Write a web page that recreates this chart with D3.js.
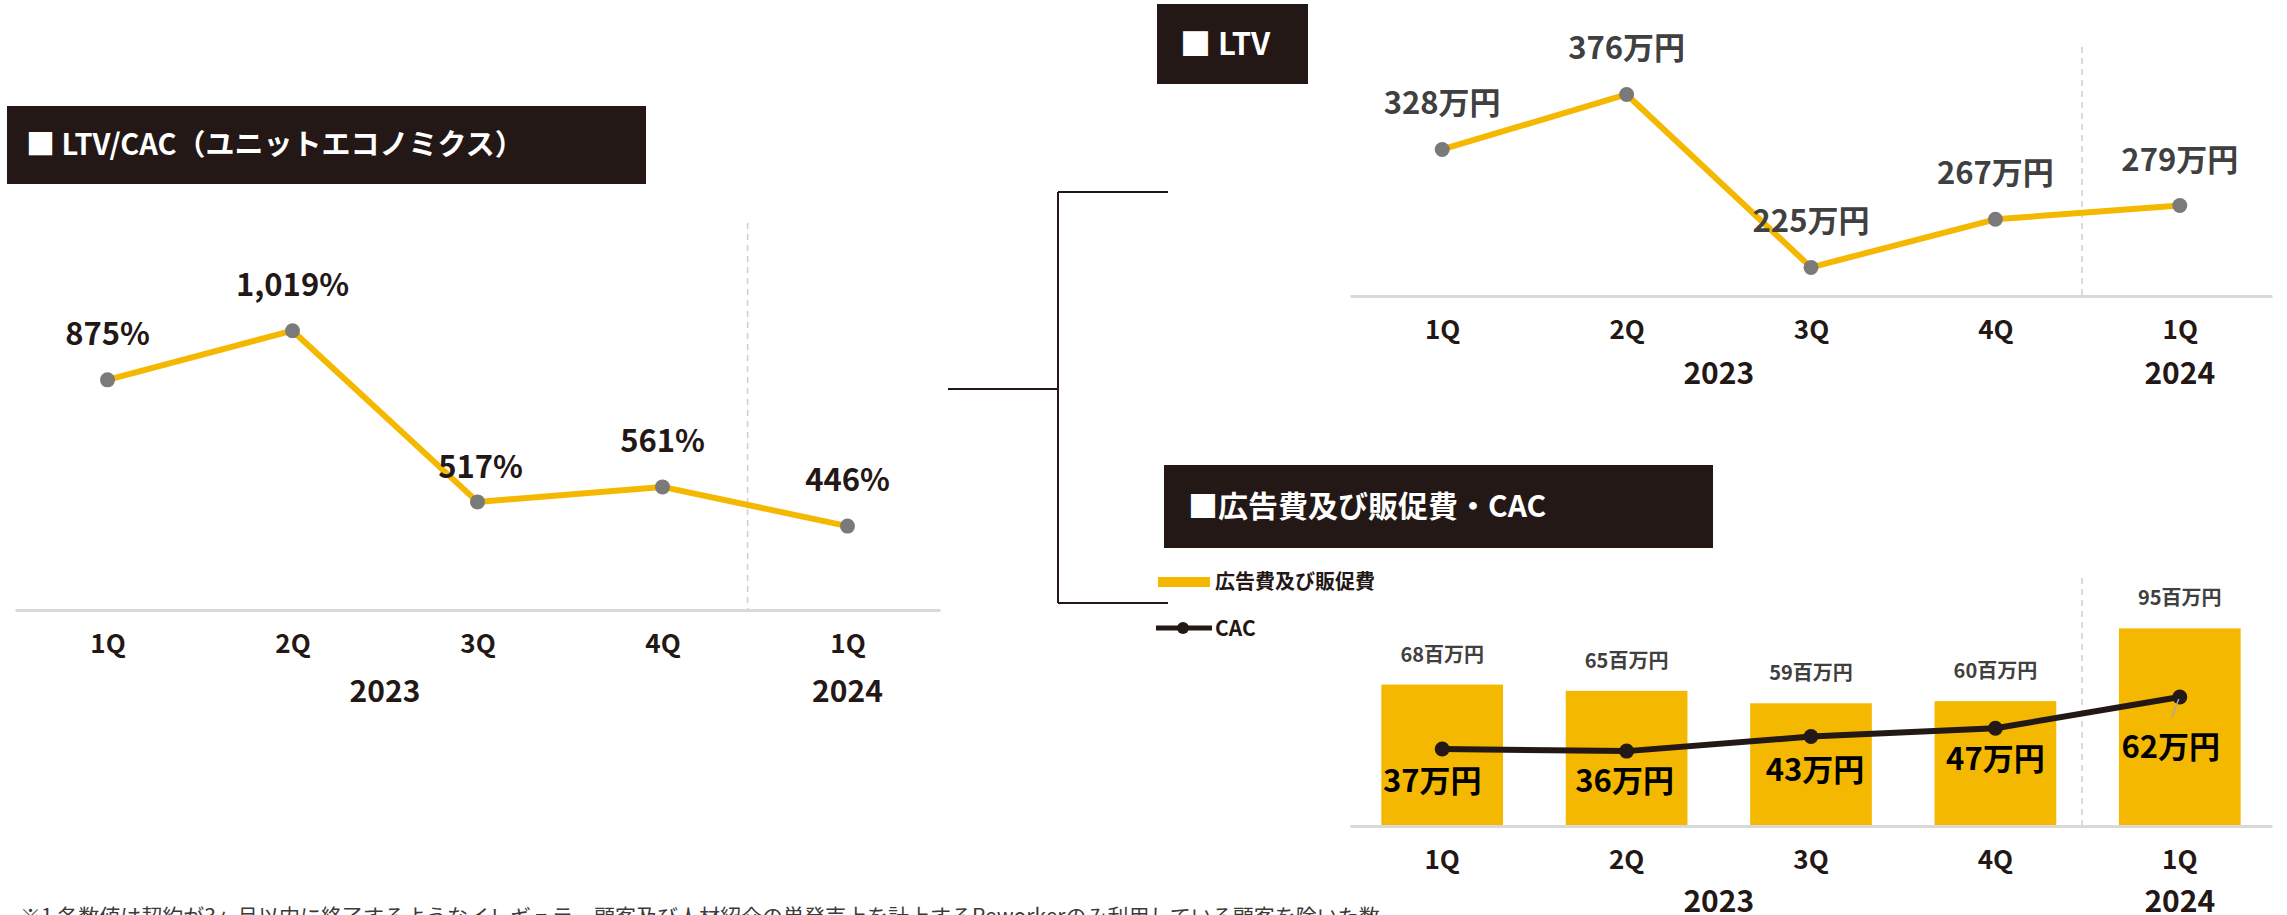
<!DOCTYPE html>
<html lang="ja">
<head>
<meta charset="UTF-8">
<title>LTV/CAC</title>
<script src="https://d3js.org/d3.v7.min.js"></script>
<style>
  body { margin: 0; background: #fff; }
  svg { display: block; font-family: "Noto Sans CJK JP", "Noto Sans", sans-serif; }
</style>
</head>
<body>
<svg id="chart" width="2287" height="915"></svg>
<script>
// データ
const periods = ["2023-1Q", "2023-2Q", "2023-3Q", "2023-4Q", "2024-1Q"];
const tickLabels = ["1Q", "2Q", "3Q", "4Q", "1Q"];
const yearGroups = [["2023", 0, 3], ["2024", 4, 4]];

const ltvCac = [875, 1019, 517, 561, 446];          // %
const ltv = [328, 376, 225, 267, 279];              // 万円
const adSpend = [68, 65, 59, 60, 95];               // 百万円
const cac = [37, 36, 43, 47, 62];                   // 万円

const footnote = "※1 各数値は契約が3ヶ月以内に終了するようなイレギュラー顧客及び人材紹介の単発売上を計上するReworkerのみ利用している顧客を除いた数";

const GOLD = "#F5B800", DARK = "#231815", GRAY = "#7a7a7a";

const svg = d3.select("#chart");

function titleBox(x, y, w, h, text, tx, size) {
  svg.append("rect").attr("x", x).attr("y", y).attr("width", w).attr("height", h).attr("fill", DARK);
  svg.append("text").attr("x", tx).attr("y", y + h / 2 + size * 0.36)
    .attr("fill", "#fff").attr("font-size", size).attr("font-weight", 700).text(text);
}

// 横軸（1Q..／年）
function xAxis(x, baseY, yearDy) {
  const g = svg.append("g").attr("transform", `translate(0,${baseY})`)
    .call(d3.axisBottom(x).tickSize(0).tickSizeOuter(0).tickFormat((d, i) => tickLabels[i]));
  g.select(".domain").attr("stroke", "#d9d9d9").attr("stroke-width", 3);
  g.selectAll("text").attr("y", 43).attr("dy", null)
    .attr("font-size", 26).attr("font-weight", 700).attr("fill", DARK)
    .attr("font-family", "Noto Sans CJK JP");
  const cx = i => x(periods[i]) + (x.bandwidth ? x.bandwidth() / 2 : 0);
  svg.selectAll(null).data(yearGroups).enter().append("text")
    .attr("x", d => (cx(d[1]) + cx(d[2])) / 2)
    .attr("y", baseY + yearDy)
    .attr("text-anchor", "middle").attr("font-size", 30).attr("font-weight", 700)
    .attr("fill", DARK).text(d => d[0]);
}

function dashed(xPos, y1, y2) {
  svg.append("line").attr("x1", xPos).attr("x2", xPos).attr("y1", y1).attr("y2", y2)
    .attr("stroke", "#cfcfcf").attr("stroke-width", 1.5).attr("stroke-dasharray", "6,5");
}

function lineChart(values, fmt, x, y, labelColor, nudge) {
  const pts = values.map((v, i) => [x(periods[i]), y(v)]);
  svg.append("path").attr("d", d3.line()(pts))
    .attr("fill", "none").attr("stroke", GOLD).attr("stroke-width", 6).attr("stroke-linejoin", "round");
  svg.selectAll(null).data(values).enter().append("circle")
    .attr("cx", (d, i) => x(periods[i])).attr("cy", d => y(d)).attr("r", 7.5).attr("fill", GRAY);
  svg.selectAll(null).data(values).enter().append("text")
    .attr("x", (d, i) => x(periods[i]) + (nudge[i] ? nudge[i][0] : 0))
    .attr("y", (d, i) => y(d) - 35 + (nudge[i] ? nudge[i][1] : 0))
    .attr("text-anchor", "middle").attr("font-size", 31).attr("font-weight", 700)
    .attr("fill", labelColor).text(fmt);
}

// ---- LTV/CAC ----
titleBox(7, 106, 639, 78, "■ LTV/CAC（ユニットエコノミクス）", 26, 29);
const x1 = d3.scalePoint().domain(periods).range([15, 940]).padding(0.5);
const y1 = d3.scaleLinear().domain([200, 1200]).range([610, 269]);
dashed(x1(periods[3]) + x1.step() * 0.46, 223, 610);
xAxis(x1, 610, 92);
lineChart(ltvCac, d => d3.format(",")(d) + "%", x1, y1, DARK, {2: [3, 11]});

// ---- 連結線 ----
const conn = d3.path();
conn.moveTo(948, 389); conn.lineTo(1058, 389);
conn.moveTo(1058, 192); conn.lineTo(1058, 603);
conn.moveTo(1058, 192); conn.lineTo(1168, 192);
conn.moveTo(1058, 603); conn.lineTo(1168, 603);
svg.append("path").attr("d", conn.toString()).attr("fill", "none").attr("stroke", DARK).attr("stroke-width", 2);

// ---- LTV ----
titleBox(1157, 4, 151, 80, "■ LTV", 1180, 31);
const x2 = d3.scalePoint().domain(periods).range([1350, 2272]).padding(0.5);
const y2 = d3.scaleLinear().domain([200, 400]).range([296, 67]);
dashed(x2(periods[3]) + x2.step() * 0.47, 47, 296);
xAxis(x2, 296, 88);
lineChart(ltv, d => d + "万円", x2, y2, "#404040", {});

// ---- 広告費及び販促費・CAC ----
titleBox(1164, 465, 549, 83, "■広告費及び販促費・CAC", 1188, 30);
const x3 = d3.scaleBand().domain(periods).range([1350, 2272]).paddingInner(0.34).paddingOuter(0.17);
const y3 = d3.scaleLinear().domain([0, 100]).range([826, 618]);
const cx3 = d => x3(d) + x3.bandwidth() / 2;
dashed(cx3(periods[3]) + x3.step() * 0.47, 578, 826);

svg.selectAll(null).data(adSpend).enter().append("rect")
  .attr("x", (d, i) => x3(periods[i])).attr("width", x3.bandwidth())
  .attr("y", d => y3(d)).attr("height", d => y3(0) - y3(d)).attr("fill", GOLD);
svg.selectAll(null).data(adSpend).enter().append("text")
  .attr("x", (d, i) => cx3(periods[i])).attr("y", d => y3(d) - 23)
  .attr("text-anchor", "middle").attr("font-size", 20).attr("font-weight", 700)
  .attr("fill", "#404040").text(d => d + "百万円");

xAxis(x3, 826, 86);

const cacPts = cac.map((v, i) => [cx3(periods[i]), y3(v)]);
svg.append("path").attr("d", d3.line()(cacPts))
  .attr("fill", "none").attr("stroke", DARK).attr("stroke-width", 6).attr("stroke-linejoin", "round");
svg.selectAll(null).data(cac).enter().append("circle")
  .attr("cx", (d, i) => cx3(periods[i])).attr("cy", d => y3(d)).attr("r", 7.5).attr("fill", DARK);
// 引き出し線
svg.append("line").attr("x1", cacPts[4][0] - 1).attr("y1", cacPts[4][1] + 2)
  .attr("x2", cacPts[4][0] - 8).attr("y2", cacPts[4][1] + 20)
  .attr("stroke", "#aaa").attr("stroke-width", 1.5);
const cacDy = [43, 41, 44, 42, 61];
const cacDx = [-10, -2, 4, 0, -9];
svg.selectAll(null).data(cac).enter().append("text")
  .attr("x", (d, i) => cx3(periods[i]) + cacDx[i]).attr("y", (d, i) => y3(d) + cacDy[i])
  .attr("text-anchor", "middle").attr("font-size", 31).attr("font-weight", 700)
  .attr("fill", "#000").text(d => d + "万円");

// 凡例
const lg = svg.append("g");
lg.append("rect").attr("x", 1158).attr("y", 577).attr("width", 52).attr("height", 10).attr("fill", GOLD);
lg.append("text").attr("x", 1215).attr("y", 589).attr("font-size", 20).attr("font-weight", 700)
  .attr("fill", DARK).text("広告費及び販促費");
lg.append("line").attr("x1", 1156).attr("x2", 1212).attr("y1", 628).attr("y2", 628)
  .attr("stroke", DARK).attr("stroke-width", 5);
lg.append("circle").attr("cx", 1183).attr("cy", 628).attr("r", 6).attr("fill", DARK);
lg.append("text").attr("x", 1215).attr("y", 636).attr("font-size", 21).attr("font-weight", 700)
  .attr("fill", DARK).text("CAC");

// 注記
svg.append("text").attr("x", 20).attr("y", 924).attr("font-size", 21)
  .attr("fill", "#3a3a3a").text(footnote);
</script>
</body>
</html>
